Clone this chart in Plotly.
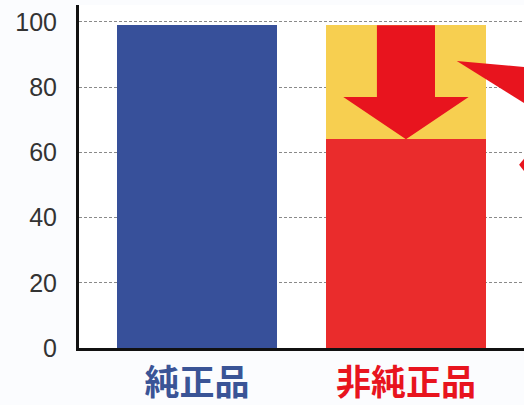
import plotly.graph_objects as go

categories = ["純正品", "非純正品"]
base_values = [99, 64]          # blue bar / red lower part
drop_values = [0, 35]           # yellow-orange upper part (lost portion)
y_ticks = [0, 20, 40, 60, 80, 100]
label_colors = ["#3a5496", "#e8141e"]
base_colors = ["#37509a", "#ea2c2c"]
drop_color = "#f7cf50"
arrow_color = "#e8141e"

xpos = list(range(len(categories)))
bar_w = 0.766

fig = go.Figure()
fig.add_trace(go.Bar(x=xpos, y=base_values, width=bar_w,
                     marker=dict(color=base_colors, line=dict(width=0)),
                     showlegend=False, hoverinfo="skip"))
fig.add_trace(go.Bar(x=xpos, y=drop_values, width=bar_w,
                     marker=dict(color=drop_color, line=dict(width=0)),
                     showlegend=False, hoverinfo="skip"))

# big down arrow inside the lost part of the second bar
cx = xpos[1]
top = base_values[1] + drop_values[1]
tip = base_values[1]
head_base = tip + (top - tip) * 0.37
sw, hw = 0.139, 0.30
path = (f"M {cx-sw},{top} L {cx+sw},{top} L {cx+sw},{head_base} "
        f"L {cx+hw},{head_base} L {cx},{tip} L {cx-hw},{head_base} "
        f"L {cx-sw},{head_base} Z")
fig.add_shape(type="path", path=path, xref="x", yref="y",
              fillcolor=arrow_color, line=dict(width=0), layer="above")

# decorative arrows at the right edge (partially visible)
fig.add_shape(type="path", xref="paper", yref="paper",
              path="M 0.849,0.837 L 1.0,0.819 L 1.0,0.714 Z",
              fillcolor=arrow_color, line=dict(width=0), layer="above")
fig.add_shape(type="path", xref="paper", yref="paper",
              path="M 0.989,0.534 L 1.0,0.552 L 1.0,0.516 Z",
              fillcolor=arrow_color, line=dict(width=0), layer="above")

ticktext = [f"<b><span style='color:{c}'>{t}</span></b>"
            for t, c in zip(categories, label_colors)]

fig.update_layout(
    width=524, height=405,
    margin=dict(l=79, r=0, t=5, b=57),
    barmode="stack",
    paper_bgcolor="#fbfcfe",
    plot_bgcolor="#ffffff",
    xaxis=dict(range=[-0.565, 1.565], tickvals=xpos, ticktext=ticktext,
               showgrid=False, zeroline=False, showline=True,
               linecolor="#111111", linewidth=3, ticks="",
               ticklabelstandoff=2, automargin=False,
               tickfont=dict(family="Noto Sans CJK JP", size=35)),
    yaxis=dict(range=[0, 105.2], tickvals=y_ticks,
               showgrid=True, gridcolor="#8a8a8a", gridwidth=1, griddash="3px,2px",
               zeroline=False, showline=True, linecolor="#111111", linewidth=3,
               ticks="", ticklabelstandoff=14, automargin=False,
               tickfont=dict(family="Liberation Sans", size=25, color="#333333")),
)

fig.write_html("out.html",
               config={"displayModeBar": False},
               post_script="document.body.style.margin='0';"
                           "document.body.style.overflow='hidden';")
